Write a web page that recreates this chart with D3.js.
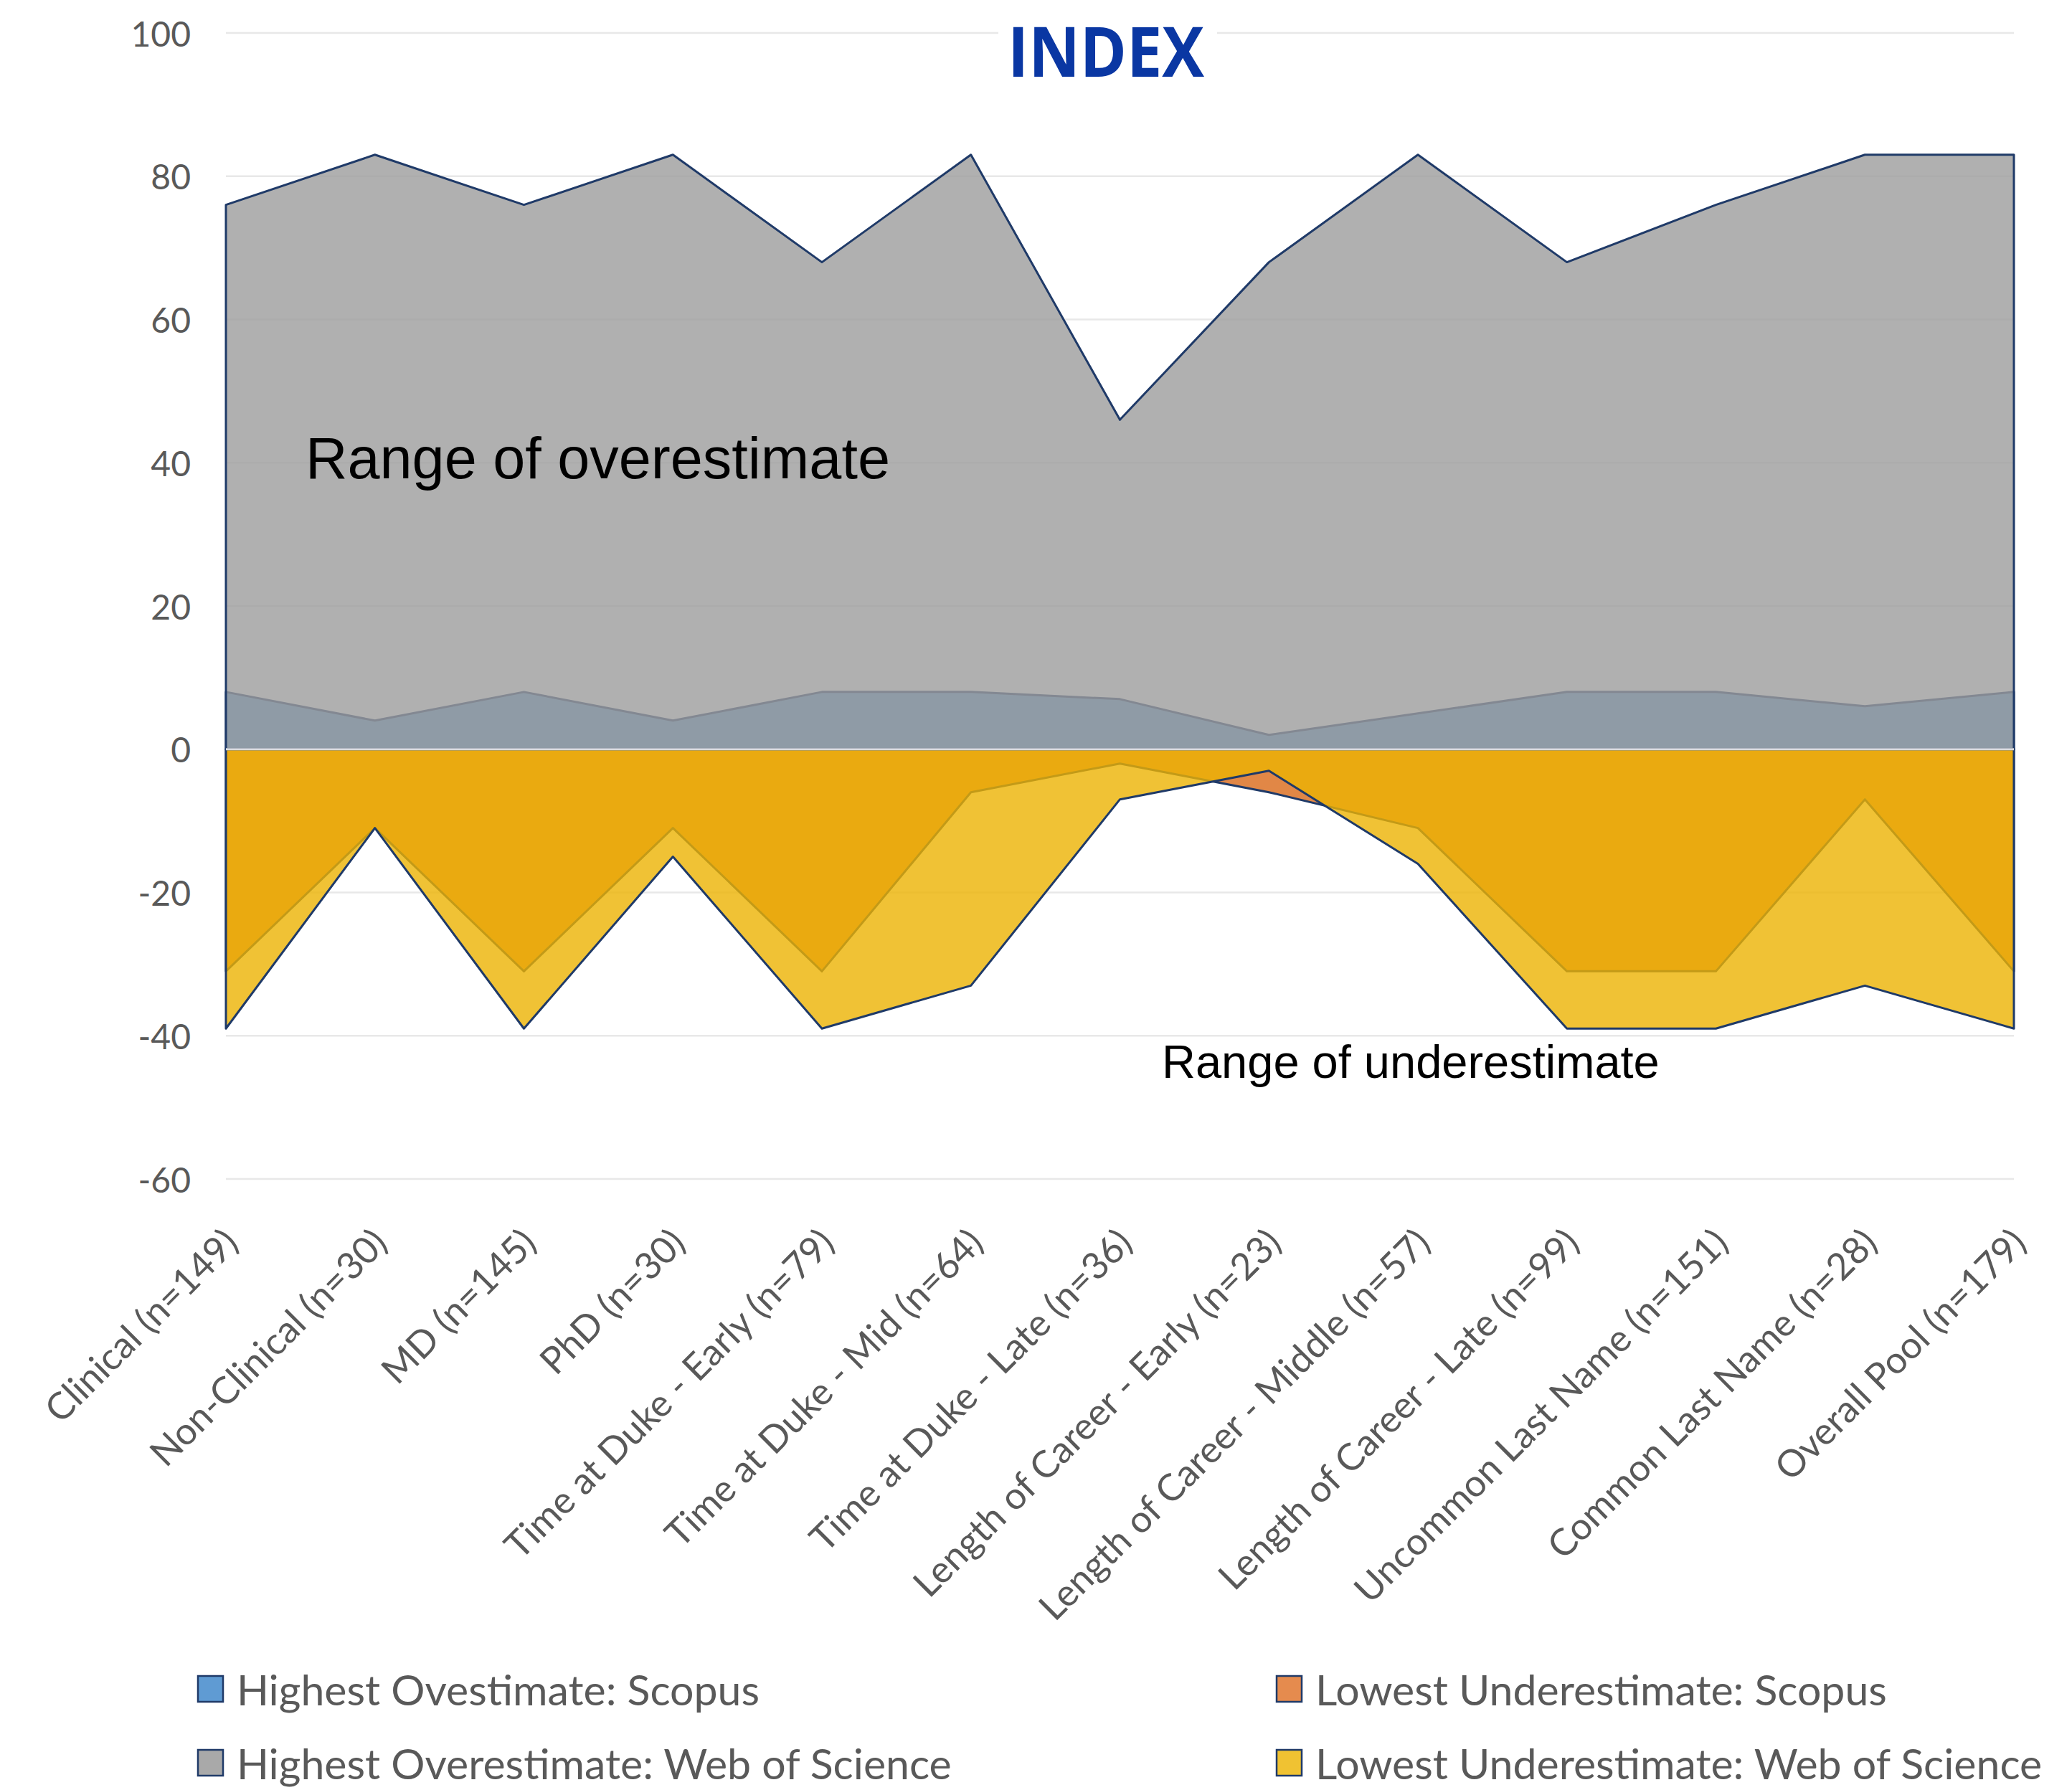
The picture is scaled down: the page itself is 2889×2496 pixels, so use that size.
<!DOCTYPE html>
<html>
<head>
<meta charset="utf-8">
<script src="https://cdnjs.cloudflare.com/ajax/libs/d3/7.8.5/d3.min.js"></script>
<style>
    body { margin: 0; background: #fff; }
    svg { display: block; }
</style>
</head>
<body>
<svg id="chart"></svg>
<script>
(function() {

    const categories = [
        'Clinical (n=149)', 'Non-Clinical (n=30)', 'MD (n=145)', 'PhD (n=30)',
        'Time at Duke - Early (n=79)', 'Time at Duke - Mid (n=64)', 'Time at Duke - Late (n=36)',
        'Length of Career - Early (n=23)', 'Length of Career - Middle (n=57)', 'Length of Career - Late (n=99)',
        'Uncommon Last Name (n=151)', 'Common Last Name (n=28)', 'Overall Pool (n=179)'
    ];
    const overScopus  = [8, 4, 8, 4, 8, 8, 7, 2, 5, 8, 8, 6, 8];
    const underScopus = [-31, -11, -31, -11, -31, -6, -2, -6, -11, -31, -31, -7, -31];
    const overWos     = [76, 83, 76, 83, 68, 83, 46, 68, 83, 68, 76, 83, 83];
    const underWos    = [-39, -11, -39, -15, -39, -33, -7, -3, -16, -39, -39, -33, -39];
    const yTicks = [-60, -40, -20, 0, 20, 40, 60, 80, 100];

    const w = 2889;
    const h = 2496;
    const navy = '#1f3a68';

    // Series in Excel drawing order; the Web of Science ones sit on top, slightly see-through.
    const series = [
        { name: 'Highest Ovestimate: Scopus', values: overScopus, fill: '#5b97cb', opacity: 1, swatch: '#5f9bd3' },
        { name: 'Lowest Underestimate: Scopus', values: underScopus, fill: '#e18746', opacity: 1, swatch: '#e58b4e' },
        { name: 'Highest Overestimate: Web of Science', values: overWos, fill: '#9c9c9c', opacity: 0.8, swatch: '#a9a9a9' },
        { name: 'Lowest Underestimate: Web of Science', values: underWos, fill: '#ecb302', opacity: 0.8, swatch: '#f0c232' }
    ];

    const x = d3.scalePoint()
        .domain(categories)
        .range([315, 2808]);

    const y = d3.scaleLinear()
        .domain([-60, 100])
        .range([1644, 46]);

    const svg = d3.select('#chart')
        .attr('width', w)
        .attr('height', h);

    // Gridlines.
    svg.append('g')
        .selectAll('line')
        .data(yTicks)
        .enter()
        .append('line')
        .attr('x1', 315)
        .attr('x2', 2808)
        .attr('y1', d => y(d))
        .attr('y2', d => y(d))
        .attr('stroke', '#e8e8e8')
        .attr('stroke-width', 2.5);

    // Y axis labels.
    svg.append('g')
        .selectAll('text')
        .data(yTicks)
        .enter()
        .append('text')
        .attr('x', 266)
        .attr('y', d => y(d))
        .attr('text-anchor', 'end')
        .attr('dominant-baseline', 'central')
        .attr('font-family', 'Lato, sans-serif')
        .attr('font-size', 48)
        .attr('fill', '#595959')
        .text(d => d);

    const area = d3.area()
        .x((d, i) => x(categories[i]))
        .y0(y(0))
        .y1(d => y(d));

    svg.append('g')
        .selectAll('path')
        .data(series)
        .enter()
        .append('path')
        .attr('d', d => area(d.values) + 'Z')
        .attr('fill', d => d.fill)
        .attr('fill-opacity', d => d.opacity)
        .attr('stroke', navy)
        .attr('stroke-width', 3)
        .attr('stroke-linejoin', 'round');

    // Horizontal axis line at zero.
    svg.append('line')
        .attr('x1', 315)
        .attr('x2', 2808)
        .attr('y1', y(0))
        .attr('y2', y(0))
        .attr('stroke', '#dcdcdc')
        .attr('stroke-width', 3);

    // Category labels.
    svg.append('g')
        .selectAll('text')
        .data(categories)
        .enter()
        .append('text')
        .attr('transform', d => `translate(${ x(d) + 6 }, ${ 1722 }) rotate(-45)`)
        .attr('text-anchor', 'end')
        .attr('dominant-baseline', 'central')
        .attr('font-family', 'Lato, sans-serif')
        .attr('font-size', 52)
        .attr('fill', '#595959')
        .text(d => d);

    // Annotations.
    svg.append('text')
        .attr('x', 426)
        .attr('y', 667)
        .attr('font-family', '"Liberation Sans", Arial, sans-serif')
        .attr('font-size', 81)
        .attr('fill', '#000')
        .text('Range of overestimate');

    svg.append('text')
        .attr('x', 1620)
        .attr('y', 1503)
        .attr('font-family', '"Liberation Sans", Arial, sans-serif')
        .attr('font-size', 65)
        .attr('fill', '#000')
        .text('Range of underestimate');

    // Title on a white box over the top gridline.
    svg.append('rect')
        .attr('x', 1392)
        .attr('y', 30)
        .attr('width', 305)
        .attr('height', 90)
        .attr('fill', '#fff');

    svg.append('text')
        .attr('x', 1405)
        .attr('y', 107)
        .attr('font-family', '"Open Sans", sans-serif')
        .attr('font-weight', 700)
        .attr('font-size', 97)
        .attr('textLength', 274)
        .attr('lengthAdjust', 'spacingAndGlyphs')
        .attr('fill', '#0a37a3')
        .text('INDEX');

    // Legend: two columns, Scopus in the first row.
    const legendPos = [[276, 2355], [1780, 2355], [276, 2458], [1780, 2458]];
    const legendOrder = [0, 1, 2, 3];

    const legend = svg.append('g')
        .selectAll('g')
        .data(legendOrder)
        .enter()
        .append('g')
        .attr('transform', (d, i) => `translate(${ legendPos[i][0] }, ${ legendPos[i][1] })`);

    legend.append('rect')
        .attr('x', 0)
        .attr('y', -18)
        .attr('width', 35)
        .attr('height', 36)
        .attr('fill', d => series[d].swatch)
        .attr('stroke', navy)
        .attr('stroke-width', 2.5);

    legend.append('text')
        .attr('x', 54)
        .attr('y', 0)
        .attr('dominant-baseline', 'central')
        .attr('font-family', 'Lato, sans-serif')
        .attr('font-size', 59)
        .attr('fill', '#595959')
        .text(d => series[d].name);

})();
</script>
</body>
</html>
